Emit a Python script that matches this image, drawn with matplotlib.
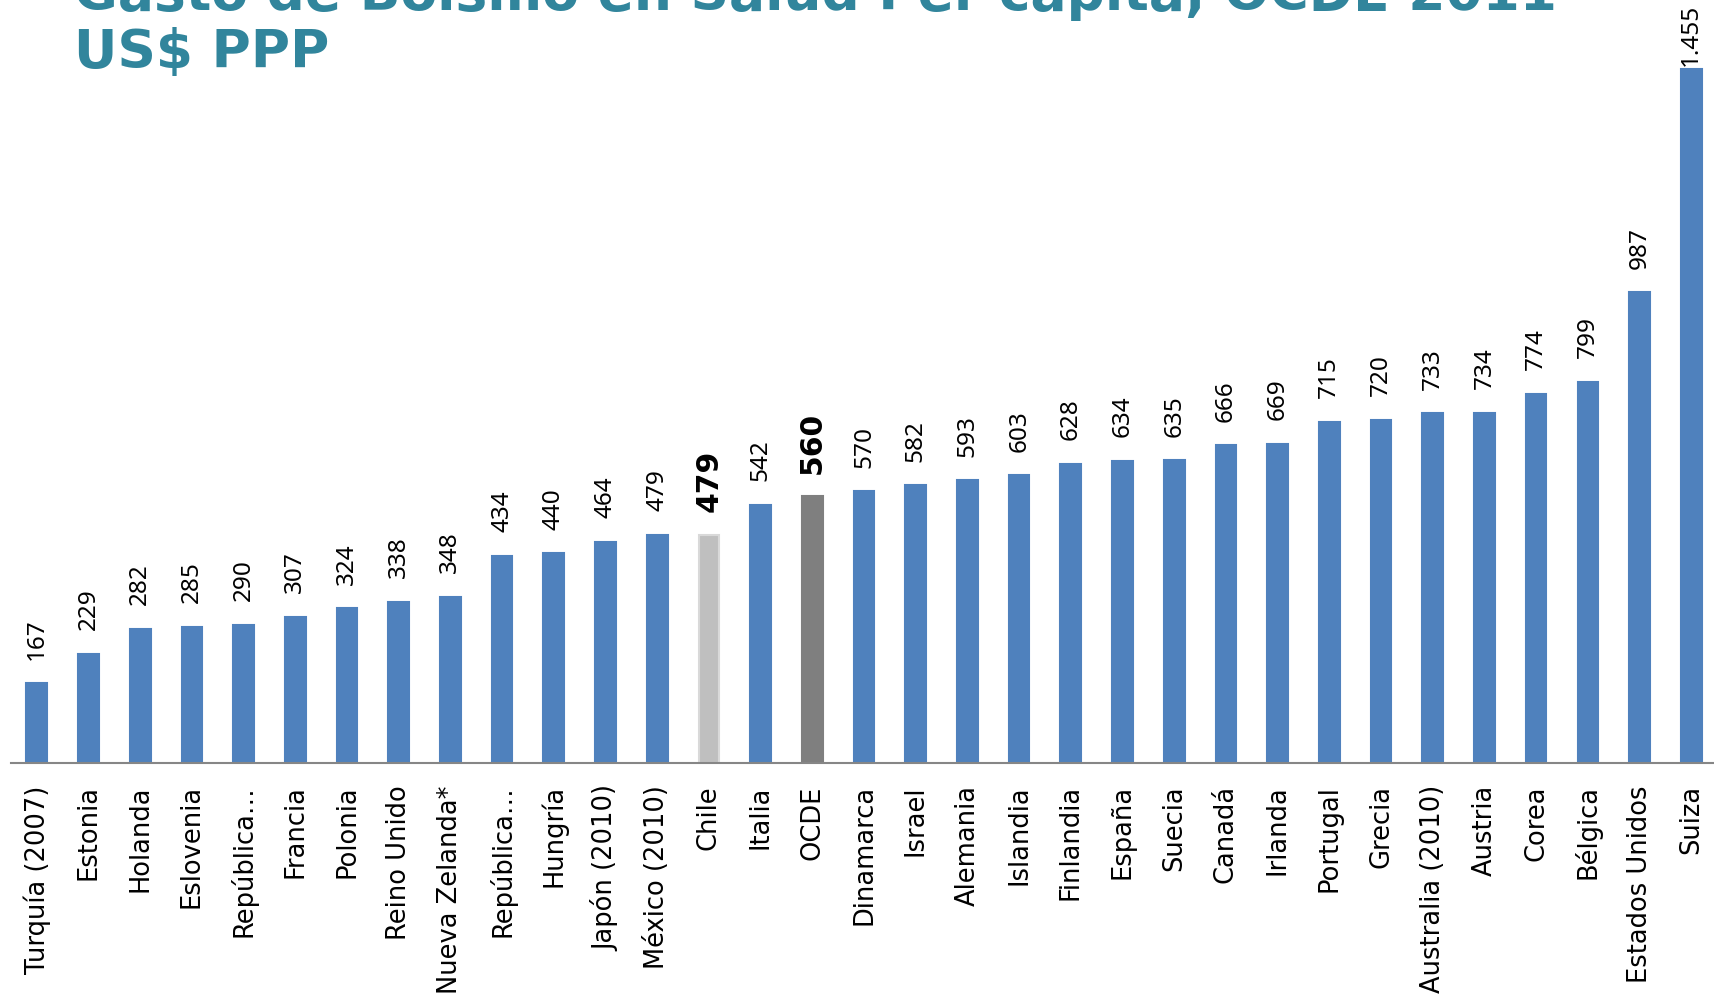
import matplotlib
matplotlib.use('Agg')
import matplotlib.pyplot as plt

# datos
paises = ['Turquía (2007)', 'Estonia', 'Holanda', 'Eslovenia', 'República…', 'Francia',
          'Polonia', 'Reino Unido', 'Nueva Zelanda*', 'República…', 'Hungría', 'Japón (2010)',
          'México (2010)', 'Chile', 'Italia', 'OCDE', 'Dinamarca', 'Israel', 'Alemania',
          'Islandia', 'Finlandia', 'España', 'Suecia', 'Canadá', 'Irlanda', 'Portugal',
          'Grecia', 'Australia (2010)', 'Austria', 'Corea', 'Bélgica', 'Estados Unidos', 'Suiza']
gasto = [167, 229, 282, 285, 290, 307, 324, 338, 348, 434, 440, 464, 479, 479, 542, 560,
         570, 582, 593, 603, 628, 634, 635, 666, 669, 715, 720, 733, 734, 774, 799, 987, 1455]
destacados = {'Chile': '#BFBFBF', 'OCDE': '#7F7F7F'}

azul = '#4F81BD'
colores = [destacados.get(p, azul) for p in paises]
bordes = ['#D9D9D9' if p == 'Chile' else c for p, c in zip(paises, colores)]

fig = plt.figure(figsize=(17.14, 9.94), dpi=100)
ax = fig.add_axes([0.0064, 0.2324, 0.9936, 0.7676])

x = range(len(paises))
ax.bar(x, gasto, width=0.4, color=colores, edgecolor=bordes, linewidth=1.5)

# etiquetas de valor
for i, (p, v) in enumerate(zip(paises, gasto)):
    txt = f"{v:,}".replace(',', '.')
    if p in destacados:
        ax.annotate(txt, (i, v), xytext=(0, 16), textcoords='offset points',
                    rotation=90, ha='center', va='bottom', fontsize=21.5,
                    fontweight='bold', family='DejaVu Sans')
    else:
        # la barra mas alta lleva la etiqueta pegada para que quepa
        off = 2 if v == max(gasto) else 17
        ax.annotate(txt, (i, v), xytext=(0, off), textcoords='offset points',
                    rotation=90, ha='center', va='bottom', fontsize=17.5,
                    family='Noto Sans')

ax.set_xlim(-0.5, 32.44)
ax.set_ylim(0, 1600)
ax.set_xticks(list(x))
ax.set_xticklabels(paises, rotation=90, fontsize=18.5, family='DejaVu Sans')
ax.tick_params(axis='x', length=0, pad=16)
ax.set_yticks([])
for s in ['top', 'right', 'left']:
    ax.spines[s].set_visible(False)
ax.spines['bottom'].set_color('#868686')
ax.spines['bottom'].set_linewidth(1.5)
ax.patch.set_alpha(0)

# titulo (cortado arriba como en el original)
fig.text(74 / 1714, 1 - 68 / 994, 'Gasto de Bolsillo en Salud Per cápita, OCDE 2011\nUS$ PPP',
         color='#31859C', fontsize=38.5, fontweight='bold', family='DejaVu Sans',
         ha='left', va='baseline', linespacing=1.15)

plt.savefig('out.png', dpi=100)
plt.close()
